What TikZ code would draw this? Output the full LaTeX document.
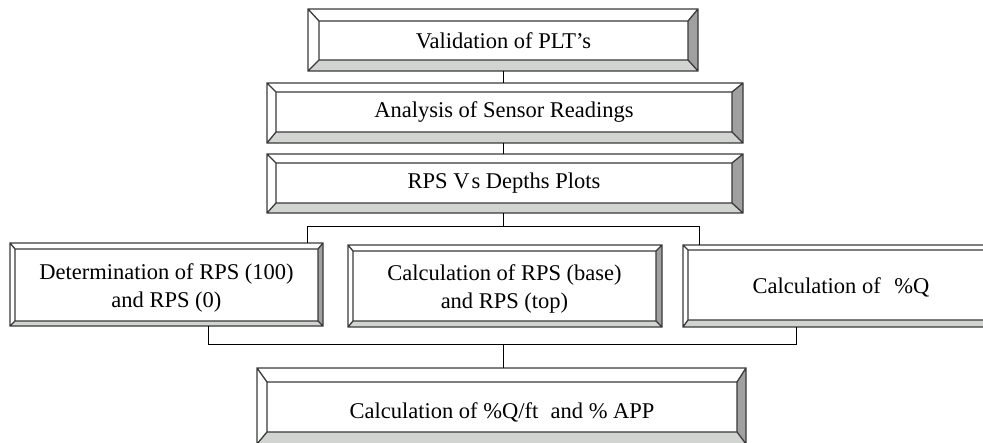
\documentclass[tikz,border=0pt]{standalone}
\usepackage{fontspec}
\setmainfont{Liberation Serif}
\definecolor{edge}{HTML}{3A3A3A}
\definecolor{bevbot}{HTML}{D2D4D2}
\definecolor{bevright}{HTML}{A0A0A0}
\tikzset{
  boxline/.style={draw=edge,line width=1.3pt,line join=miter},
  conn/.style={draw=black,line width=1pt},
  lbl/.style={inner sep=0pt,align=center,font=\fontsize{22.5}{28}\selectfont}
}
% #1 name, #2 x1, #3 y1, #4 x2, #5 y2, #6 left, #7 top, #8 right, #9 bottom bevel
\newcommand\bevelbox[9]{%
  \fill[white] (#2,#3) rectangle (#4,#5);
  \fill[bevbot] (#2,#5) -- (#2+#6,#5-#9) -- (#4-#8,#5-#9) -- (#4,#5) -- cycle;
  \fill[bevright] (#4,#3) -- (#4-#8,#3+#7) -- (#4-#8,#5-#9) -- (#4,#5) -- cycle;
  \draw[boxline] (#2,#3) rectangle (#4,#5) (#2+#6,#3+#7) rectangle (#4-#8,#5-#9)
    (#2,#3) -- (#2+#6,#3+#7) (#4,#3) -- (#4-#8,#3+#7)
    (#2,#5) -- (#2+#6,#5-#9) (#4,#5) -- (#4-#8,#5-#9);
  \node[inner sep=0pt,minimum width={#4-#2},minimum height={#5-#3}] (#1) at ({(#2+#4)/2},{(#3+#5)/2}) {};
  \coordinate (#1c) at ({(#2+#6+#4-#8)/2},{(#3+#7+#5-#9)/2});
}
\begin{document}
\begin{tikzpicture}[x=1pt,y=-1pt]
\useasboundingbox (0,0) rectangle (983,442);
\clip (0,0) rectangle (983,442);

\bevelbox{b1}{308}{9}{698}{71}{11}{12}{10}{11}
\bevelbox{b2}{267}{83}{743}{143}{9}{9}{11}{11}
\bevelbox{b3}{267}{154}{743}{213}{9}{9}{11}{10}
\bevelbox{b4}{10}{243}{323}{326}{5}{6}{5}{5}
\bevelbox{b5}{348}{245}{662}{327}{5}{6}{6}{6}
\bevelbox{b6}{683}{245}{1000}{327}{5}{5}{6}{7}
\bevelbox{b7}{257}{368}{746}{444}{10}{14}{9}{12}

\node[lbl] (t1) at (b1c) {Validation of PLT's};
\node[lbl] (t2) at (b2c) {Analysis of Sensor Readings};
\node[lbl] (t3) at (b3c) {RPS V\kern2pt s Depths Plots};
\node[lbl] (t4) at ([yshift=-3pt]b4c) {Determination of RPS (100)\\and RPS (0)};
\node[lbl] (t5) at ([yshift=-3pt]b5c) {Calculation of RPS (base)\\and RPS (top)};
\node[lbl] (t6) at ([xshift=0pt,yshift=-2pt]b6c) {Calculation of\hspace{0.6em}\%Q};
\node[lbl] (t7) at (502,412) {Calculation of \%Q/ft\hspace{0.55em}and \% APP};

% connectors
\draw[conn] (b1.south) -- (b1.south |- b2.north);
\draw[conn] (b1.south |- b2.south) -- (b1.south |- b3.north);
\coordinate (j1c) at (503,226);
\coordinate (j1l) at (307,226);
\coordinate (j1r) at (699,226);
\draw[conn] (j1c |- b3.south) -- (j1c);
\draw[conn] (j1l |- b4.north) -- (j1l) -- (j1r) -- (j1r |- b6.north);
\coordinate (j2l) at (208,344);
\coordinate (j2r) at (796,344);
\coordinate (j2c) at (503,344);
\draw[conn] (j2l |- b4.south) -- (j2l) -- (j2r) -- (j2r |- b6.south);
\draw[conn] (j2c) -- (j2c |- b7.north);
\end{tikzpicture}
\end{document}
